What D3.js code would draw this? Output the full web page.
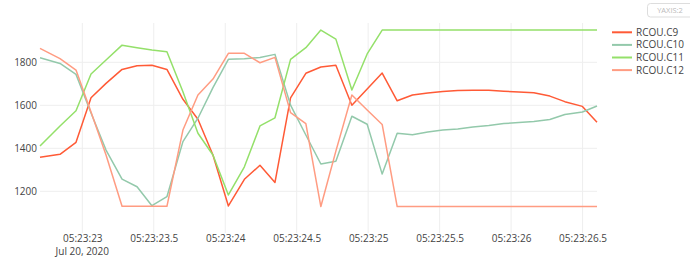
<!DOCTYPE html>
<html>
<head>
<meta charset="utf-8">
<script src="https://cdn.jsdelivr.net/npm/d3@7"></script>
<style>
    body { margin: 0; background: #fff; }
    text { font-family: "Open Sans", sans-serif; fill: #444; }
</style>
</head>
<body>
<div id="chart"></div>
<script>

// Sample times (seconds past 05:23, Jul 20 2020)
var seconds = [22.704, 22.844, 22.956, 23.061, 23.166, 23.278, 23.383, 23.487, 23.592, 23.704,
    23.809, 23.914, 24.022, 24.134, 24.243, 24.348, 24.457, 24.564, 24.669, 24.774,
    24.886, 24.993, 25.098, 25.203, 25.310, 25.417, 25.522, 25.627, 25.732, 25.844,
    25.949, 26.054, 26.159, 26.271, 26.376, 26.499, 26.601];

var rcouC9 = [1358, 1372, 1428, 1635, 1702, 1767, 1784, 1786, 1767, 1628,
    1535, 1369, 1132, 1256, 1321, 1241, 1635, 1749, 1778, 1786,
    1600, 1676, 1750, 1621, 1648, 1657, 1664, 1669, 1670, 1670,
    1666, 1662, 1658, 1643, 1617, 1595, 1521];

var rcouC10 = [1821, 1795, 1744, 1564, 1392, 1257, 1221, 1133, 1175, 1431,
    1540, 1682, 1814, 1817, 1823, 1837, 1601, 1462, 1327, 1340,
    1549, 1512, 1280, 1470, 1463, 1476, 1485, 1490, 1499, 1506,
    1515, 1520, 1525, 1534, 1557, 1569, 1597];

var rcouC11 = [1411, 1504, 1575, 1746, 1811, 1880, 1868, 1857, 1849, 1663,
    1470, 1369, 1183, 1314, 1504, 1542, 1814, 1868, 1950, 1908,
    1671, 1839, 1950, 1950, 1950, 1950, 1950, 1950, 1950, 1950,
    1950, 1950, 1950, 1950, 1950, 1950, 1950];

var rcouC12 = [1865, 1817, 1764, 1569, 1369, 1130, 1130, 1130, 1130, 1485,
    1648, 1722, 1842, 1842, 1798, 1823, 1566, 1515, 1129, 1387,
    1648, 1578, 1511, 1129, 1129, 1129, 1129, 1129, 1129, 1129,
    1129, 1129, 1129, 1129, 1129, 1129, 1129];

var seriesNames = ["RCOU.C9", "RCOU.C10", "RCOU.C11", "RCOU.C12"];
var seriesColors = ["#ff5a36", "#93c9ab", "#94e06a", "#ff9c82"];
var yTicks = [1200, 1400, 1600, 1800];
var xTickSeconds = [23, 23.5, 24, 24.5, 25, 25.5, 26, 26.5];

var svgWidth = 690;
var svgHeight = 263;

var margin = { top: 23, right: 93, bottom: 30, left: 40 };
var width = svgWidth - margin.left - margin.right;
var height = svgHeight - margin.top - margin.bottom;

var base = new Date(2020, 6, 20, 5, 23, 0, 0);
function toDate(s) { return new Date(base.getTime() + Math.round(s * 1000)); }

var times = seconds.map(toDate);
var allSeries = [rcouC9, rcouC10, rcouC11, rcouC12];

var svg = d3.select("#chart").append("svg")
    .attr("width", svgWidth)
    .attr("height", svgHeight);

svg.append("rect")
    .attr("width", svgWidth)
    .attr("height", svgHeight)
    .attr("fill", "#fff");

var chartGroup = svg.append("g")
    .attr("transform", `translate(${margin.left}, ${margin.top})`);

// Scales
var xScale = d3.scaleTime()
    .domain([times[0], times[times.length - 1]])
    .range([0, width]);

var yScale = d3.scaleLinear()
    .domain([1006, 1983])
    .range([height, 0]);

// Grid lines
chartGroup.append("g")
    .selectAll("line")
    .data(xTickSeconds.map(toDate))
    .enter()
    .append("line")
    .attr("x1", d => xScale(d))
    .attr("x2", d => xScale(d))
    .attr("y1", 0)
    .attr("y2", height)
    .attr("stroke", "#eee")
    .attr("stroke-width", 1);

chartGroup.append("g")
    .selectAll("line")
    .data(yTicks)
    .enter()
    .append("line")
    .attr("x1", 0)
    .attr("x2", width)
    .attr("y1", d => yScale(d))
    .attr("y2", d => yScale(d))
    .attr("stroke", "#eee")
    .attr("stroke-width", 1);

// Axes (labels only)
var fmtTick = function(d) {
    var s = d.getSeconds() + d.getMilliseconds() / 1000;
    return d3.timeFormat("%H:%M:")(d) + (s < 10 ? "0" : "") + s;
};

var bottomAxis = d3.axisBottom(xScale)
    .tickValues(xTickSeconds.map(toDate))
    .tickFormat(fmtTick)
    .tickSize(0)
    .tickPadding(2);

var leftAxis = d3.axisLeft(yScale)
    .tickValues(yTicks)
    .tickFormat(d3.format("d"))
    .tickSize(0)
    .tickPadding(3);

var xAxisG = chartGroup.append("g")
    .attr("transform", `translate(0, ${height})`)
    .call(bottomAxis);

var yAxisG = chartGroup.append("g")
    .call(leftAxis);

[xAxisG, yAxisG].forEach(g => {
    g.select(".domain").remove();
    g.selectAll("text")
        .attr("fill", "#444")
        .style("font-family", "'Open Sans', sans-serif")
        .style("font-size", "10px");
});

// date under the first tick
chartGroup.append("text")
    .attr("x", xScale(toDate(23)))
    .attr("y", height + 21.5)
    .attr("text-anchor", "middle")
    .style("font-size", "10px")
    .text("Jul 20, 2020");

// Lines
var line = d3.line()
    .x((d, i) => xScale(times[i]))
    .y(d => yScale(d));

allSeries.forEach((vals, k) => {
    chartGroup.append("path")
        .datum(vals)
        .attr("fill", "none")
        .attr("stroke", seriesColors[k])
        .attr("stroke-width", 1.5)
        .attr("stroke-linejoin", "round")
        .attr("d", line);
});

// Legend
var legend = svg.append("g")
    .attr("transform", "translate(612, 32.3)");

seriesNames.forEach((name, k) => {
    var row = legend.append("g")
        .attr("transform", `translate(0, ${k * 12.6})`);
    row.append("line")
        .attr("x1", 0)
        .attr("x2", 20)
        .attr("stroke", seriesColors[k])
        .attr("stroke-width", 2);
    row.append("text")
        .attr("x", 24)
        .attr("dy", "0.35em")
        .style("font-size", "10px")
        .text(name);
});

// y-axis toggle button
svg.append("rect")
    .attr("x", 647.5)
    .attr("y", 3.5)
    .attr("width", 48)
    .attr("height", 13.5)
    .attr("rx", 3)
    .attr("fill", "#fff")
    .attr("stroke", "#ddd");

svg.append("text")
    .attr("x", 670)
    .attr("y", 13)
    .attr("text-anchor", "middle")
    .style("font-size", "7.5px")
    .style("fill", "#bbb")
    .text("YAXIS:2");

</script>
</body>
</html>
